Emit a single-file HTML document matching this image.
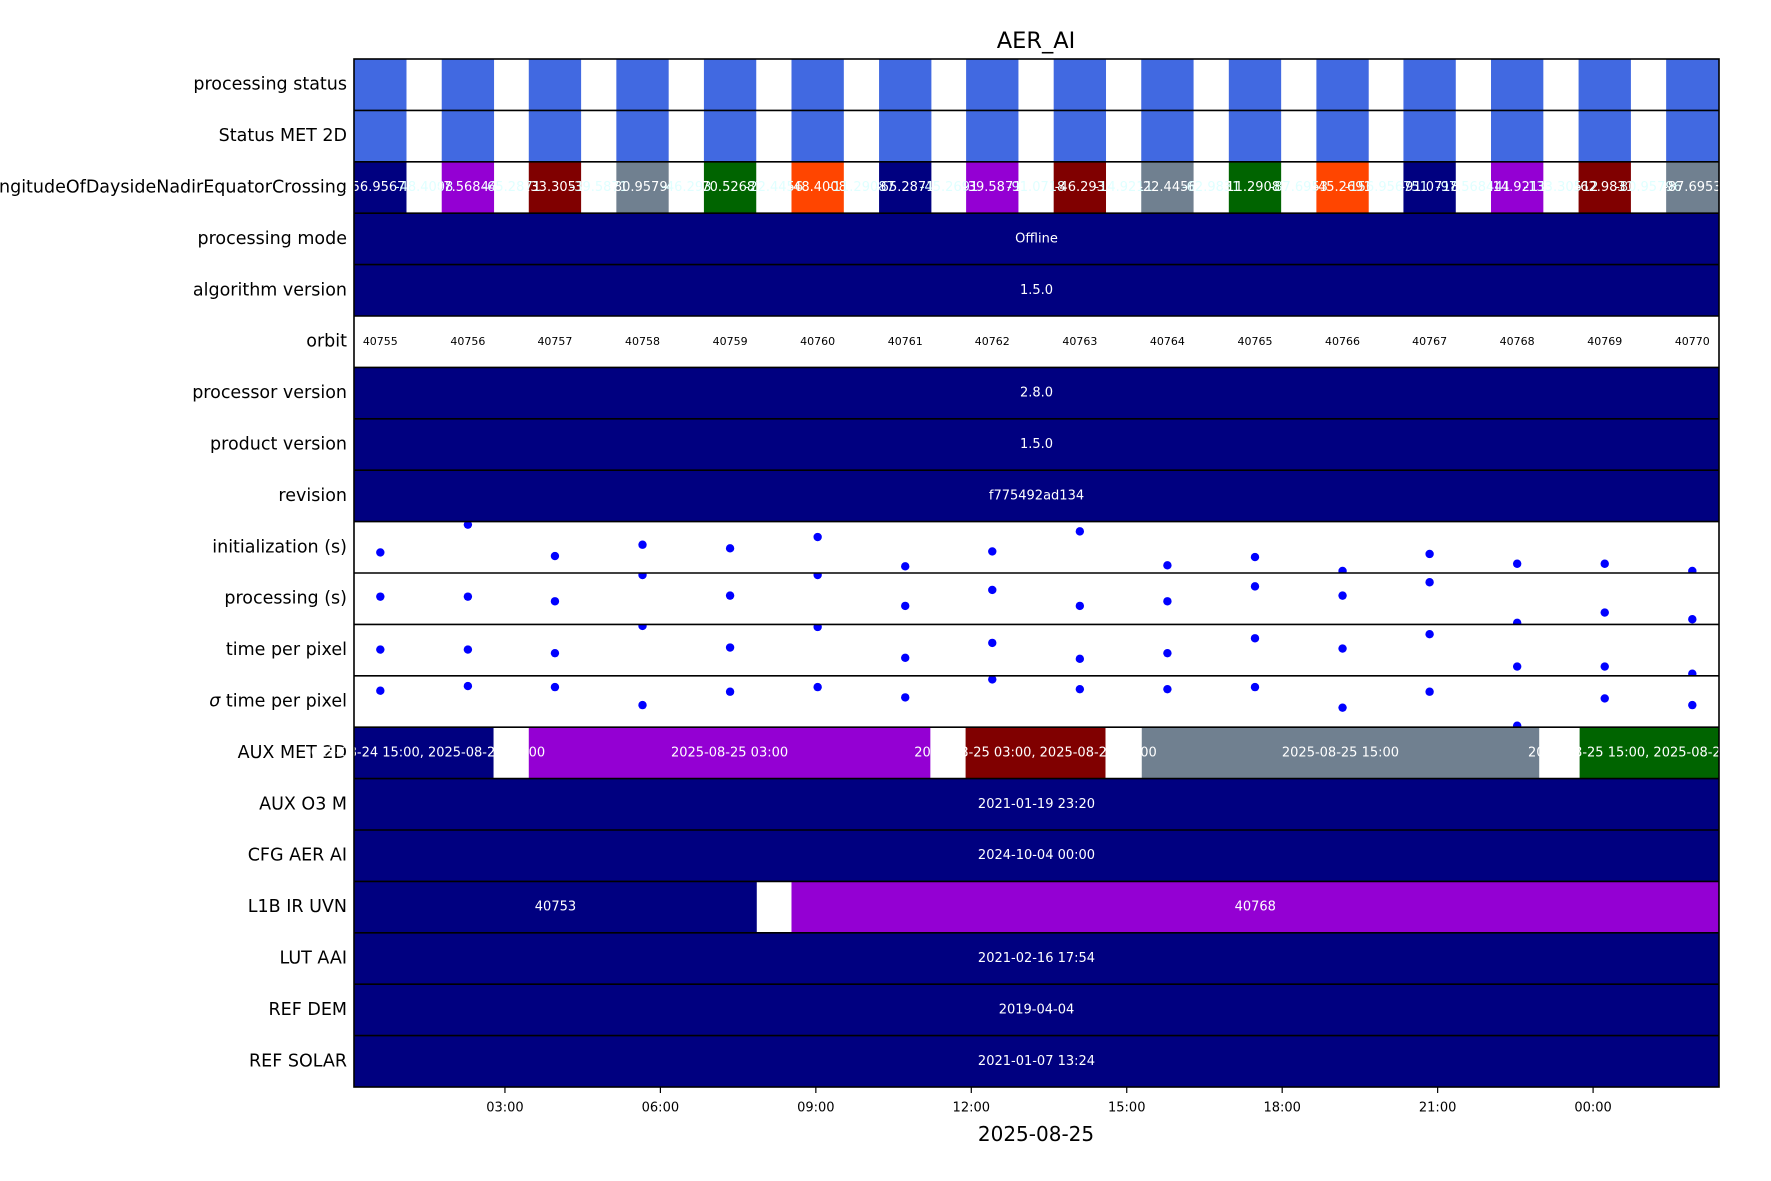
<!DOCTYPE html>
<html><head><meta charset="utf-8"><style>
html,body{margin:0;padding:0;background:#fff;overflow:hidden;}
svg{display:block;font-family:"DejaVu Sans","Liberation Sans",sans-serif;}
</style></head><body>
<svg id="chart" width="1771" height="1181" viewBox="0 0 1771 1181" xmlns="http://www.w3.org/2000/svg">
<text x="1036" y="48" font-size="22.5" text-anchor="middle" fill="#000">AER_AI</text>
<text x="1036" y="1141" font-size="20" text-anchor="middle" fill="#000">2025-08-25</text>
<g id="rows"></g>
<g id="ticks"></g>
</svg>
<script>
const rowLabels = ["processing status","Status MET 2D","LongitudeOfDaysideNadirEquatorCrossing","processing mode","algorithm version","orbit","processor version","product version","revision","initialization (s)","processing (s)","time per pixel","\u03c3 time per pixel","AUX MET 2D","AUX O3   M","CFG AER AI","L1B IR UVN","LUT AAI","REF DEM","REF SOLAR"];
const orbitNumbers = [40755,40756,40757,40758,40759,40760,40761,40762,40763,40764,40765,40766,40767,40768,40769,40770];
const orbitStart = [0.09,1.78,3.46,5.15,6.84,8.53,10.22,11.90,13.59,15.28,16.97,18.66,20.34,22.03,23.72,25.41];
const orbitDuration = 1.01;
const lonColors = ["#000080","#9400d3","#800000","#708090","#006400","#ff4500","#000080","#9400d3","#800000","#708090","#006400","#ff4500","#000080","#9400d3","#800000","#708090"];
const lonText = ["-156.956751","-97.568441","-133.30512","-80.95796","-70.52687","-48.4008","-65.2871","-39.5871","-46.293","-22.4456","-11.29087","-45.2691","-91.0718","-14.9211","-62.9831","-87.6953"];
const initValues = [0.40,0.94,0.33,0.55,0.48,0.70,0.13,0.42,0.81,0.15,0.31,0.04,0.37,0.18,0.18,0.04];
const procValues = [0.54,0.54,0.45,0.96,0.56,0.96,0.36,0.67,0.36,0.45,0.74,0.56,0.82,0.03,0.23,0.10];
const tppValues = [0.51,0.51,0.44,0.97,0.55,0.95,0.35,0.64,0.33,0.44,0.73,0.53,0.81,0.18,0.18,0.04];
const sigmaValues = [0.71,0.80,0.78,0.43,0.69,0.78,0.58,0.93,0.74,0.74,0.78,0.38,0.69,0.03,0.56,0.43];
const auxMetStart = [0.09,3.46,11.89,15.29,23.74];
const auxMetEnd = [2.78,11.21,14.59,22.96,26.43];
const auxMetColors = ["#000080","#9400d3","#800000","#708090","#006400"];
const auxMetText = ["2025-08-24 15:00, 2025-08-25 03:00","2025-08-25 03:00","2025-08-25 03:00, 2025-08-25 15:00","2025-08-25 15:00","2025-08-25 15:00, 2025-08-26 03:00"];
const l1bStart = [0.09,8.53];
const l1bEnd = [7.86,26.43];
const l1bColors = ["#000080","#9400d3"];
const l1bText = ["40753","40768"];
const fullRowText = {3:"Offline",4:"1.5.0",6:"2.8.0",7:"1.5.0",8:"f775492ad134",14:"2021-01-19 23:20",15:"2024-10-04 00:00",17:"2021-02-16 17:54",18:"2019-04-04",19:"2021-01-07 13:24"};
const tickHours = [3,6,9,12,15,18,21,24];
const tickLabels = ["03:00","06:00","09:00","12:00","15:00","18:00","21:00","00:00"];

const L=354,R=1719,T=59,B=1087,N=rowLabels.length,RH=(B-T)/N;
const X0=0.087,X1=26.43;
const xs=h=>L+(h-X0)/(X1-X0)*(R-L);
const rowTop=i=>T+i*RH;
const NS="http://www.w3.org/2000/svg";
const rows=document.getElementById('rows'),ticks=document.getElementById('ticks');
function mk(tag,attrs,parent){const e=document.createElementNS(NS,tag);for(const k in attrs)e.setAttribute(k,attrs[k]);parent.appendChild(e);return e;}
function txt(parent,x,y,s,size,fill,anchor){const t=mk('text',{x:x,y:y,'font-size':size,fill:fill,'text-anchor':anchor||'middle','dominant-baseline':'central'},parent);t.textContent=s;return t;}
const defs=mk('defs',{},document.getElementById('chart'));
function seg(g,h0,h1,i,color){return mk('rect',{x:xs(h0),y:rowTop(i),width:xs(h1)-xs(h0),height:RH,fill:color},g);}
const labelG=mk('g',{},rows);

for(let i=0;i<N;i++){
  const g=mk('g',{},rows);
  
  
  const cy=rowTop(i)+RH/2;
  const lab=txt(labelG,347,cy,rowLabels[i],17.5,'#000','end');
  
  
  if(i===12){lab.textContent='';const s1=mk('tspan',{'font-style':'italic'},lab);s1.textContent='\u03c3';const s2=mk('tspan',{},lab);s2.textContent=' time per pixel';}
  if(i===0||i===1){
    orbitStart.forEach((s,k)=>{const r=seg(g,s,s+orbitDuration,i,'#4169e1');
      
      });
  } else if(i===2){
    orbitStart.forEach((s,k)=>{const r=seg(g,s,s+orbitDuration,i,lonColors[k]);
      
      });
    orbitStart.forEach((s,k)=>{
      txt(g,xs(s+orbitDuration/2),cy,lonText[k],13,'#fff');
      if(k<orbitStart.length-1) txt(g,xs(s+orbitDuration+0.34),cy,lonText[(k+5)%16],13,'#e0ffff');
    });
  } else if(i===5){
    orbitStart.forEach((s,k)=>{const t=txt(g,xs(s+orbitDuration/2),cy,String(orbitNumbers[k]),11,'#000');
      
      });
  } else if(i>=9&&i<=12){
    const vals=[initValues,procValues,tppValues,sigmaValues][i-9];
    const cp=mk('clipPath',{id:'cp'+i},defs);
    mk('rect',{x:L,y:rowTop(i),width:R-L,height:RH},cp);
    const pg=mk('g',{'clip-path':'url(#cp'+i+')'},g);
    vals.forEach((v,k)=>{const c=mk('circle',{cx:xs(orbitStart[k]+orbitDuration/2),cy:rowTop(i)+RH-v*RH,r:4.2,fill:'#0000ff'},pg);
      
      });
  } else if(i===13){
    auxMetStart.forEach((s,k)=>{const r=seg(g,s,auxMetEnd[k],i,auxMetColors[k]);
      
      });
    auxMetStart.forEach((s,k)=>txt(g,(xs(s)+xs(auxMetEnd[k]))/2,cy,auxMetText[k],13,'#fff'));
  } else if(i===16){
    l1bStart.forEach((s,k)=>{const r=seg(g,s,l1bEnd[k],i,l1bColors[k]);
      
      });
    l1bStart.forEach((s,k)=>txt(g,(xs(s)+xs(l1bEnd[k]))/2,cy,l1bText[k],13,'#fff'));
  } else {
    seg(g,X0,X1,i,'#000080');
    txt(g,(L+R)/2,cy,fullRowText[i],13,'#fff');
  }
}
for(let i=1;i<N;i++) mk('line',{x1:L,x2:R,y1:rowTop(i),y2:rowTop(i),stroke:'#000','stroke-width':1.6},rows);
const frame=mk('rect',{x:L,y:T,width:R-L,height:B-T,fill:'none',stroke:'#000','stroke-width':1.6},rows);


tickHours.forEach((h,k)=>{
  const x=xs(h);
  mk('line',{x1:x,x2:x,y1:B,y2:B+6,stroke:'#000','stroke-width':1.2},ticks);
  const t=txt(ticks,x,B+21,tickLabels[k],13,'#000');
  
  
});
</script>
</body></html>
